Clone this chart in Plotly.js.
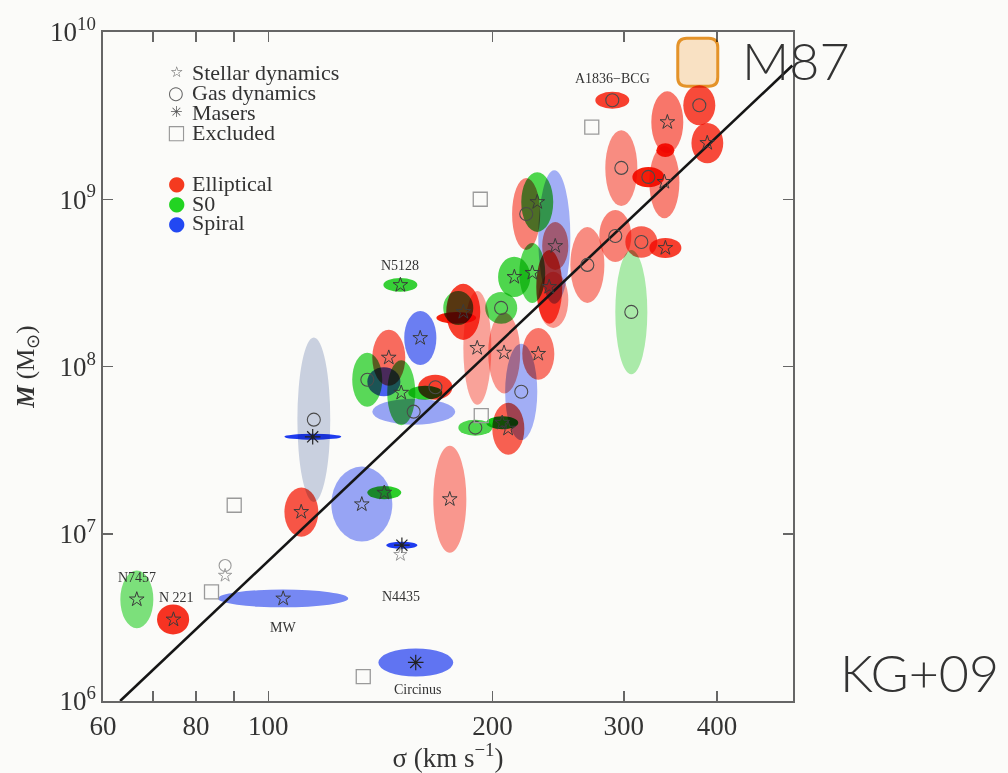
<!DOCTYPE html>
<html><head><meta charset="utf-8">
<script src="https://cdn.plot.ly/plotly-3.0.1.min.js"></script>
<style>
html,body{margin:0;padding:0;background:#fbfbf9;}
#chart{width:1008px;height:773px;}
.shapelayer > g, .shapelayer > path{mix-blend-mode:multiply;}
</style></head><body><div id="chart"></div><script>
// ---- data (sigma in km/s, mass in solar masses) ----
const names    = ['N7457','N 221','MW','Circinus','N4435','','','','','','','','','','','','','','','N5128','','','','','','','','','','','','','','','','','','','','A1836\u2212BCG','','','','','','','','','','','',''];
const sigma    = [66.6,74.6,104.7,157.7,151.1,133.5,143.1,110.7,115.1,114.7,175.2,156.7,135.8,150.8,145.1,142.9,167.6,162.3,159.9,150.4,182.7,179.9,178.8,190.7,205.3,207.2,230.3,218.5,189.6,206.0,209.8,221.9,229.6,242.0,242.7,213.9,226.1,238.2,241.2,289.5,378.8,388.2,343.2,341.1,340.0,323.6,297.7,292.2,316.7,341.1,268.0,307.0];
const sigmaLo  = [63.3,70.9,85.6,140.5,144.0,121.5,135.8,105.1,109.4,105.1,166.5,137.9,129.6,144.4,137.9,135.8,158.9,154.1,152.2,142.7,173.3,171.7,168.1,182.7,195.5,197.3,219.2,207.9,179.9,196.1,199.8,212.4,218.5,230.3,233.1,203.4,217.2,228.9,230.3,274.7,360.5,369.7,326.6,331.7,324.6,308.0,283.3,278.1,301.4,324.6,254.3,292.2];
const sigmaHi  = [70.1,78.3,128.0,177.1,158.5,146.7,150.8,116.7,121.1,125.3,184.4,178.2,142.2,157.5,152.7,150.4,176.6,171.2,168.1,158.5,192.5,188.4,190.1,199.2,215.8,217.8,242.0,229.6,199.8,216.5,220.6,231.7,241.2,254.3,252.7,224.7,235.3,248.0,252.7,305.1,398.0,407.9,360.5,350.7,356.2,340.0,312.8,307.0,332.7,358.4,282.5,322.6];
const mass     = [4.05e6,3.07e6,4.10e6,1.70e6,8.54e6,1.50e7,1.76e7,1.35e7,4.81e7,3.80e7,1.61e7,5.37e7,8.33e7,6.97e7,1.13e8,8.11e7,7.51e7,6.97e7,1.48e8,3.07e8,2.12e8,2.24e8,1.95e8,1.29e8,2.24e8,1.21e8,1.19e8,7.06e7,4.31e7,4.61e7,4.25e7,8.16e8,9.62e8,5.95e8,5.25e8,3.43e8,3.63e8,2.99e8,2.50e8,3.91e9,3.65e9,2.17e9,2.89e9,1.97e9,1.27e9,1.36e9,1.54e9,6.03e8,5.55e8,5.11e8,4.05e8,2.12e8];
const massLo   = [2.72e6,2.50e6,3.63e6,1.40e6,8.14e6,8.98e6,1.61e7,9.6e6,1.55e7,3.65e7,7.7e6,4.49e7,5.75e7,4.45e7,7.66e7,6.64e7,6.33e7,6.33e7,1.02e8,2.80e8,1.44e8,1.77e8,1.80e8,5.9e7,1.80e8,6.9e7,8.33e7,3.63e7,3.86e7,4.22e7,2.97e7,4.97e8,6.38e8,2.37e8,3.78e8,2.60e8,2.40e8,1.80e8,1.70e8,3.48e9,2.77e9,1.64e9,1.89e9,1.79e9,7.7e8,1.18e9,9.1e8,4.22e8,4.47e8,4.46e8,2.40e8,9.0e7];
const massHi   = [6.03e6,3.78e6,4.64e6,2.06e6,8.96e6,2.52e7,1.93e7,1.89e7,1.49e8,3.96e7,3.36e7,6.42e7,1.21e8,1.09e8,1.66e8,9.89e7,8.92e7,7.67e7,2.15e8,3.38e8,3.12e8,2.83e8,2.12e8,2.83e8,2.79e8,2.10e8,1.70e8,1.37e8,4.81e7,5.04e7,6.07e7,1.34e9,1.45e9,1.49e9,7.30e8,4.53e8,5.48e8,4.97e8,3.68e8,4.40e9,4.81e9,2.86e9,4.42e9,2.16e9,2.08e9,1.56e9,2.59e9,8.61e8,6.90e8,5.87e8,6.82e8,4.97e8];
const morph    = ['S0','E','S','S','S','S','S0','E','X','S','E','S','S0','S0','E','S','E','S0','S','S0','E','S0','E','E','S0','E','E','S','S0','S0','E','E','S0','S','E','S0','S0','E','E','E','E','E','E','E','E','E','E','E','E','E','E','S0'];
const weight   = [0.55,0.9,0.6,0.7,1,0.45,0.9,0.75,0.32,1,0.45,0.45,0.7,0.7,0.65,0.8,0.85,0.9,0.65,0.85,0.85,0.7,1,0.4,0.7,0.45,0.6,0.4,0.75,1,0.7,0.55,0.75,0.4,0.55,0.75,0.7,0.8,0.45,0.85,0.8,0.8,0.6,1,0.55,1,0.5,0.55,0.7,0.85,0.5,0.35];
const method   = ['star','star','star','maser','maser','star','star','star','gas','maser','star','gas','gas','star','star','none','gas','none','star','star','star','none','none','star','gas','star','star','gas','gas','star','star','gas','star','none','star','star','star','star','none','gas','gas','star','star','none','star','gas','gas','gas','gas','star','gas','gas'];

const exclSigma = [134.1,83.9,90.0,192.5,271.7,193.1];
const exclMass  = [1.40e6,4.49e6,1.48e7,1.00e9,2.70e9,5.08e7];
const exclGasSigma = [87.5];
const exclGasMass  = [6.46e6];
const exclStarSigma = [87.5,150.4];
const exclStarMass  = [5.63e6,7.5e6];

const fitSigma = [63.26,504.9];
const fitMass  = [1.0e6,6.3e9];

const m87Sigma = [377];
const m87Mass  = [6.6e9];

const xTickVals = [60,80,100,200,300,400];
const xTickText = ['60','80','100','200','300','400'];
const xMinorVals = [70,90];
const yTickVals = [1e6,1e7,1e8,1e9,1e10];
const yTickText = ['10<sup>6</sup>','10<sup>7</sup>','10<sup>8</sup>','10<sup>9</sup>','10<sup>10</sup>'];

const methodLegend = ['Stellar dynamics','Gas dynamics','Masers','Excluded'];
const morphLegend  = ['Elliptical','S0','Spiral'];

// ---- styles ----
const base = {E:'250,30,10', S0:'20,205,20', S:'30,60,245', X:'100,120,175'};
const serif = 'Liberation Serif, Times New Roman, serif';

const shapes = sigma.map((s,i)=>({
  type:'circle', xref:'x', yref:'y',
  x0:sigmaLo[i], x1:sigmaHi[i], y0:massLo[i], y1:massHi[i],
  fillcolor:`rgba(${base[morph[i]]},${weight[i]})`, line:{width:0}, layer:'below'
}));
shapes.push({
  type:'path', xref:'x', yref:'y', xsizemode:'pixel', ysizemode:'pixel',
  xanchor:m87Sigma[0], yanchor:m87Mass[0],
  path:'M -11,-24 L 11,-24 Q 20,-24 20,-15 L 20,15 Q 20,24 11,24 L -11,24 Q -20,24 -20,15 L -20,-15 Q -20,-24 -11,-24 Z',
  fillcolor:'#fde5c8', line:{color:'#e8952a', width:3}, layer:'above'
});

function pick(m){
  const xs=[],ys=[];
  sigma.forEach((s,i)=>{ if(method[i]===m){xs.push(s);ys.push(mass[i]);} });
  return {xs,ys};
}
const st=pick('star'), gs=pick('gas'), ms=pick('maser');

const traces = [
  {x:fitSigma, y:fitMass, mode:'lines', line:{color:'#151515', width:2.6}, showlegend:false, hoverinfo:'skip'},
  {x:st.xs, y:st.ys, mode:'markers', marker:{symbol:'star-open', size:11, color:'#3a3a3a', line:{width:1}}, showlegend:false},
  {x:gs.xs, y:gs.ys, mode:'markers', marker:{symbol:'circle-open', size:13, color:'#4a4a4a', line:{width:1.1}}, showlegend:false},
  {x:ms.xs, y:ms.ys, mode:'markers', marker:{symbol:'asterisk-open', size:13, color:'#222', line:{width:1.2}}, showlegend:false},
  {x:exclSigma, y:exclMass, mode:'markers', marker:{symbol:'square-open', size:14, color:'#9a9a9a', line:{width:1.3}}, showlegend:false},
  {x:exclGasSigma, y:exclGasMass, mode:'markers', marker:{symbol:'circle-open', size:12, color:'#9a9a9a', line:{width:1.1}}, showlegend:false},
  {x:exclStarSigma, y:exclStarMass, mode:'markers', marker:{symbol:'star-open', size:10, color:'#9a9a9a', line:{width:1}}, showlegend:false}
];

// ---- annotations ----
const ann = [];
const labelShift = {'N7457':[0,22],'N 221':[3,22],'MW':[0,-29],'Circinus':[2,-27],'N4435':[-1,-51],'N5128':[0,20],'A1836\u2212BCG':[0,22]};
names.forEach((n,i)=>{ if(n){ const sh=labelShift[n]||[0,20];
  ann.push({x:Math.log10(sigma[i]), y:Math.log10(mass[i]), xref:'x', yref:'y', text:n, showarrow:false,
    xshift:sh[0], yshift:sh[1], font:{family:serif, size:14, color:'#333'}});
}});
// legend (drawn as text)
const legGlyph = ['\u2606','\u25CB','\u2733','\u25A1'];
const legGlyphSize = [15,18,15,20];
const legGlyphColor = ['#555','#666','#555','#999'];
const rowsY1 = [72,92,112,132], rowsY2 = [183,203,223];
const py = p => 1-(p-32)/669, px = p => (p-103)/690;
methodLegend.forEach((t,k)=>{
  ann.push({xref:'paper',yref:'paper',x:px(176),y:py(rowsY1[k]),text:legGlyph[k],showarrow:false,xanchor:'center',yanchor:'middle',font:{family:'DejaVu Sans',size:legGlyphSize[k],color:legGlyphColor[k]}});
  ann.push({xref:'paper',yref:'paper',x:px(190),y:py(rowsY1[k]),text:t,showarrow:false,xanchor:'left',yanchor:'middle',font:{family:serif,size:22,color:'#333'}});
});
const morphColor = ['#f53a1f','#22d422','#2248f2'];
morphLegend.forEach((t,k)=>{
  ann.push({xref:'paper',yref:'paper',x:px(176),y:py(rowsY2[k]),text:'\u25CF',showarrow:false,xanchor:'center',yanchor:'middle',font:{family:'DejaVu Sans',size:20,color:morphColor[k]}});
  ann.push({xref:'paper',yref:'paper',x:px(190),y:py(rowsY2[k]),text:t,showarrow:false,xanchor:'left',yanchor:'middle',font:{family:serif,size:22,color:'#333'}});
});
ann.push({x:Math.log10(m87Sigma[0]), y:Math.log10(m87Mass[0]), xref:'x', yref:'y', text:'M87', showarrow:false, xanchor:'left', yanchor:'middle', xshift:42, yshift:2, font:{family:'Lato, Open Sans, sans-serif', size:52, color:'#333', weight:300}});
ann.push({xref:'paper', yref:'paper', x:px(838), y:py(672), text:'KG+09', showarrow:false, xanchor:'left', yanchor:'middle', font:{family:'Lato, Open Sans, sans-serif', size:52, color:'#333', weight:300}});

const axisCommon = {showline:true, linecolor:'#666', linewidth:1.6, mirror:'ticks', ticks:'inside', ticklen:10, tickwidth:1.5, tickcolor:'#666', showgrid:false, zeroline:false, tickfont:{family:serif, size:27, color:'#333'}};

const layout = {
  width:1008, height:773,
  margin:{l:103, r:215, t:32, b:72},
  paper_bgcolor:'#fbfbf9', plot_bgcolor:'#fbfbf9',
  showlegend:false,
  xaxis:Object.assign({}, axisCommon, {type:'log', range:[Math.log10(60), Math.log10(506)], tickvals:xTickVals, ticktext:xTickText,
    minor:{tickvals:xMinorVals, ticks:'inside', ticklen:10, tickwidth:1.5, tickcolor:'#666', showgrid:false},
    title:{text:'\u03c3 (km s<sup>\u22121</sup>)', font:{family:serif, size:27, color:'#333'}, standoff:2}}),
  yaxis:Object.assign({}, axisCommon, {type:'log', range:[6,10], tickvals:yTickVals, ticktext:yTickText,
    title:{text:'<b><i>M</i></b> (M<sub>\u2299</sub>)', font:{family:serif, size:25, color:'#333'}, standoff:8}}),
  shapes:shapes,
  annotations:ann
};
Plotly.newPlot('chart', traces, layout, {staticPlot:true});
</script></body></html>
